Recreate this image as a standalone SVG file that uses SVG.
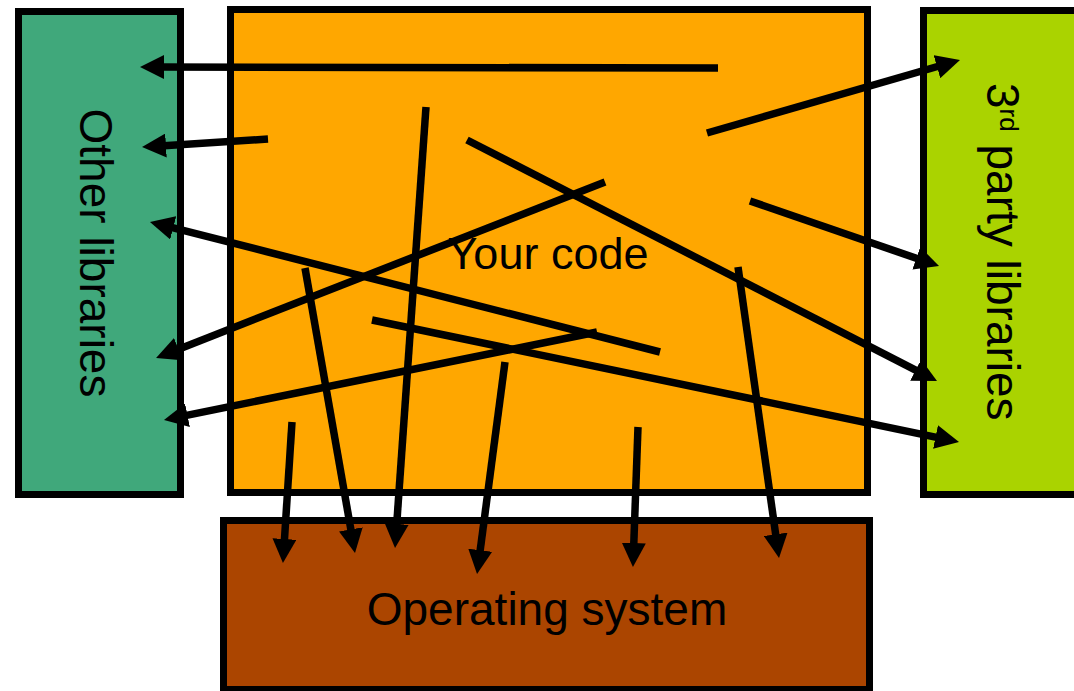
<svg xmlns="http://www.w3.org/2000/svg" width="1074" height="691" viewBox="0 0 1074 691">
<style>
.box{stroke:#000;stroke-width:7}
.lbl{font-family:"Liberation Sans",Arial,sans-serif;fill:#000}
.arr{stroke:#000;stroke-width:7.5;fill:none;marker-end:url(#ah)}
</style>
<defs>
<marker id="ah" viewBox="0 0 24 24" markerWidth="24" markerHeight="24" markerUnits="userSpaceOnUse" refX="6" refY="12" orient="auto">
<path d="M0,0 L24,12 L0,24 z" fill="#000"/>
</marker>
</defs>
<rect width="1074" height="691" fill="#fff"/>
<g id="other-libraries">
<rect class="box" x="18.5" y="11.5" width="162" height="483" fill="#40A87B"/>
<text class="lbl" font-size="46" text-anchor="middle" transform="translate(80,253) rotate(90)">Other libraries</text>
</g>
<g id="your-code">
<rect class="box" x="230.5" y="9.5" width="637" height="483" fill="#FFA700"/>
<text class="lbl" font-size="45" text-anchor="middle" x="548" y="269">Your code</text>
</g>
<g id="third-party">
<rect class="box" x="923.5" y="10.5" width="200" height="484" fill="#AAD300"/>
<text class="lbl" font-size="46" transform="translate(987,83) rotate(90)">3<tspan font-size="26" dy="-13">rd</tspan><tspan dy="13"> party libraries</tspan></text>
</g>
<g id="operating-system">
<rect class="box" x="223.5" y="520.5" width="646" height="169" fill="#AB4500"/>
<text class="lbl" font-size="46" text-anchor="middle" x="547" y="625">Operating system</text>
</g>
<g id="connectors">
<line class="arr" x1="718" y1="68" x2="158" y2="67"/>
<line class="arr" x1="268" y1="139" x2="160" y2="145.9"/>
<line class="arr" x1="660" y1="352" x2="167.4" y2="226.4"/>
<line class="arr" x1="605" y1="182" x2="172.8" y2="351.4"/>
<line class="arr" x1="597" y1="332" x2="181.6" y2="416.4"/>
<line class="arr" x1="707" y1="133" x2="942.7" y2="65"/>
<line class="arr" x1="750" y1="201" x2="922" y2="260.2"/>
<line class="arr" x1="467" y1="140" x2="921" y2="372.8"/>
<line class="arr" x1="372" y1="320" x2="941.4" y2="438.3"/>
<line class="arr" x1="292" y1="422" x2="284.1" y2="545"/>
<line class="arr" x1="305" y1="268" x2="351.9" y2="535.3"/>
<line class="arr" x1="426" y1="107" x2="396.3" y2="530"/>
<line class="arr" x1="505" y1="362" x2="479.4" y2="556.2"/>
<line class="arr" x1="638" y1="427" x2="633.6" y2="549"/>
<line class="arr" x1="738" y1="267" x2="776.5" y2="540.2"/>
</g>
</svg>
